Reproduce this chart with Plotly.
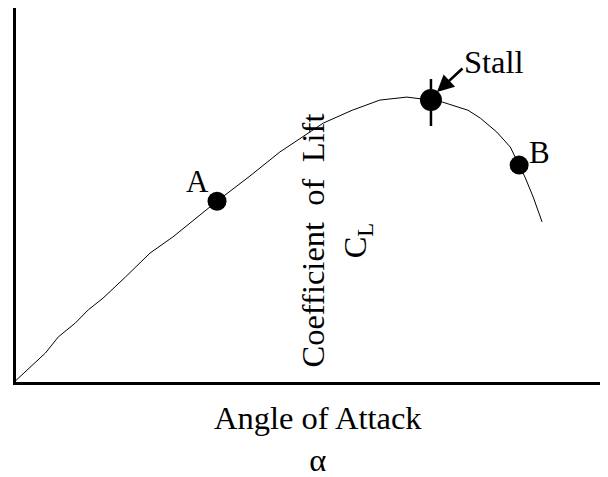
import plotly.graph_objects as go

# Curve: lift coefficient vs angle of attack (arbitrary units, no ticks)
alpha = [0, 5.3, 7.5, 10.4, 12.6, 15.1, 18.9, 23.1, 27.0, 31.1, 34.5, 40.1, 45.2,
         52.6, 57.5, 62.2, 66.8, 70.9, 72.8, 77.2, 79.3, 82.1, 84.4, 85.9, 86.9, 88.3, 89.8]
cl = [0, 7.7, 12.0, 15.7, 19.2, 22.3, 27.9, 34.3, 38.6, 43.9, 48.1, 54.8, 61.2,
      68.9, 72.3, 75.0, 75.8, 75.0, 74.5, 72.3, 70.2, 66.5, 62.5, 57.7, 54.5, 49.2, 42.6]

# Marked points
pt_names = ["A", "Stall", "B"]
pt_alpha = [34.5, 70.9, 85.9]
pt_cl = [48.1, 75.0, 57.7]
pt_sizes = [19, 22, 19]

# Stall tick (vertical bar through stall point)
tick_alpha = [70.9, 70.9]
tick_cl = [80.6, 68.1]

FONT = "Liberation Serif"
FS = 32.5
FS_PT = 31

# page offset (body margin) and plot area in screen pixels
OFF = 8
PL, PR, PT, PB = 16, 602, 8, 382


def paper_x(sx):
    return (sx - PL) / (PR - PL)


def paper_y(sy):
    return (PB - sy) / (PB - PT)


fig = go.Figure()
fig.add_trace(go.Scatter(x=alpha, y=cl, mode="lines",
                         line=dict(color="black", width=1), hoverinfo="skip"))
fig.add_trace(go.Scatter(x=tick_alpha, y=tick_cl, mode="lines",
                         line=dict(color="black", width=2.5), hoverinfo="skip"))
fig.add_trace(go.Scatter(x=pt_alpha, y=pt_cl, mode="markers",
                         marker=dict(color="black", size=pt_sizes, opacity=1,
                                     line=dict(width=0)),
                         hoverinfo="skip"))

# Point labels
fig.add_annotation(x=pt_alpha[0], y=pt_cl[0], text=pt_names[0], showarrow=False,
                   xshift=-20, yshift=20, font=dict(family=FONT, size=FS_PT, color="black"))
fig.add_annotation(x=pt_alpha[2], y=pt_cl[2], text=pt_names[2], showarrow=False,
                   xshift=20, yshift=13, font=dict(family=FONT, size=FS_PT, color="black"))
# Stall label
fig.add_annotation(x=pt_alpha[1], y=pt_cl[1], text=pt_names[1], showarrow=False,
                   xshift=63.5, yshift=38, font=dict(family=FONT, size=FS, color="black"))
# Stall arrow (pointing at the stall point)
fig.add_annotation(x=pt_alpha[1], y=pt_cl[1], text="", showarrow=True,
                   ax=27, ay=-25, xshift=6, yshift=8, standoff=0,
                   arrowhead=2, arrowsize=1.3, arrowwidth=2.6, arrowcolor="black")

# Axis labels
fig.add_annotation(xref="paper", yref="paper", x=paper_x(335.5), y=paper_y(240),
                   text="Coefficient  of  Lift<br>C<sub>L</sub>", textangle=-90,
                   showarrow=False, font=dict(family=FONT, size=FS, color="black"))
fig.add_annotation(xref="paper", yref="paper", x=paper_x(318), y=paper_y(397.5),
                   yanchor="top", text="Angle of Attack<br>α", showarrow=False,
                   font=dict(family=FONT, size=FS, color="black"))

fig.update_xaxes(range=[0.3, 100], showline=True, linewidth=3, linecolor="black",
                 showgrid=False, zeroline=False, showticklabels=False, ticks="")
fig.update_yaxes(range=[0, 99.5], showline=True, linewidth=3, linecolor="black",
                 showgrid=False, zeroline=False, showticklabels=False, ticks="")
fig.update_layout(width=608, height=477, showlegend=False,
                  margin=dict(l=PL - OFF, r=608 - (PR - OFF), t=PT - OFF,
                              b=477 - (PB - OFF)),
                  plot_bgcolor="white", paper_bgcolor="white")

fig.write_html("out.html")
